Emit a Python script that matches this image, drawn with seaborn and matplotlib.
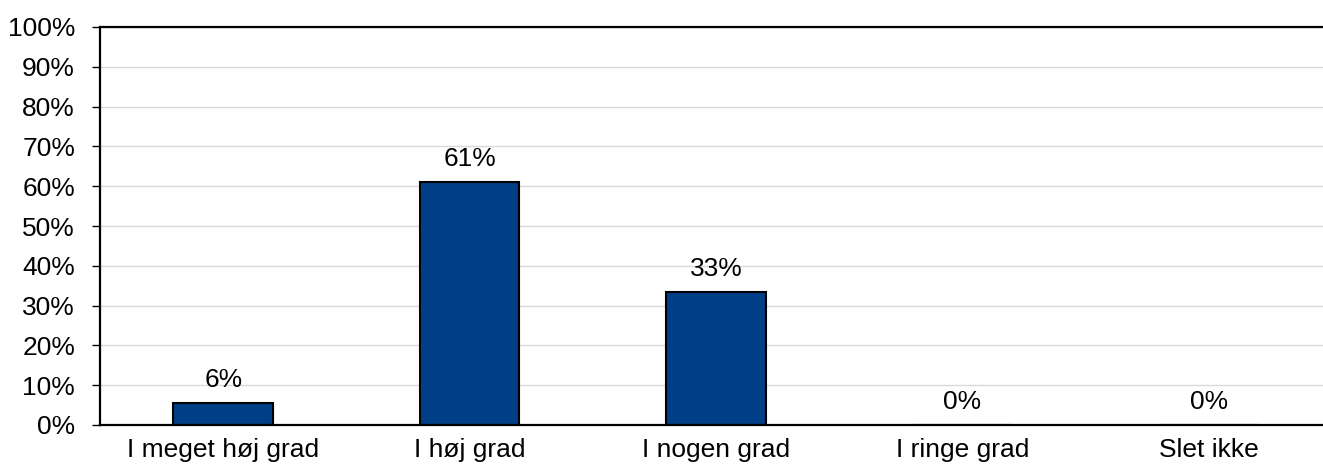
import pandas as pd
import seaborn as sns
import matplotlib.pyplot as plt
from matplotlib.ticker import PercentFormatter

# data
categories = ['I meget høj grad', 'I høj grad', 'I nogen grad', 'I ringe grad', 'Slet ikke']
values = [5.6, 61.1, 33.3, 0.0, 0.0]
labels = ['6%', '61%', '33%', '0%', '0%']

df = pd.DataFrame({'kategori': categories, 'andel': values})

sns.set_style('white')
plt.rcParams['font.family'] = ['Liberation Sans', 'DejaVu Sans']
plt.rcParams['text.color'] = 'black'

fig = plt.figure(figsize=(13.23, 4.70), dpi=100)
ax = fig.add_axes([100 / 1323, 45 / 470, 1232 / 1323, 398 / 470])

sns.barplot(data=df, x='kategori', y='andel', color='#003F87', width=0.405,
            edgecolor='black', linewidth=1.5, saturation=1, ax=ax)

for i, (v, lab) in enumerate(zip(values, labels)):
    ax.annotate(lab, (i, v), xytext=(0, 8), textcoords='offset points',
                ha='center', va='bottom', fontsize=19, color='black')

ax.set_ylim(0, 100)
ax.set_yticks(range(0, 101, 10))
ax.yaxis.set_major_formatter(PercentFormatter(decimals=0))
ax.set_xlim(-0.5, 4.5)
ax.yaxis.grid(True, color='#d9d9d9', linewidth=1)
ax.set_axisbelow(True)
ax.set_xlabel('')
ax.set_ylabel('')

for side in ['left', 'top', 'bottom']:
    ax.spines[side].set_visible(True)
    ax.spines[side].set_color('black')
    ax.spines[side].set_linewidth(1.6)
ax.spines['right'].set_visible(False)

ax.tick_params(axis='y', left=True, length=6, width=1, color='black',
               labelsize=19, labelcolor='black', pad=12)
ax.tick_params(axis='x', bottom=False, labelsize=19, labelcolor='black', pad=6)

plt.savefig('out.png', dpi=100)
